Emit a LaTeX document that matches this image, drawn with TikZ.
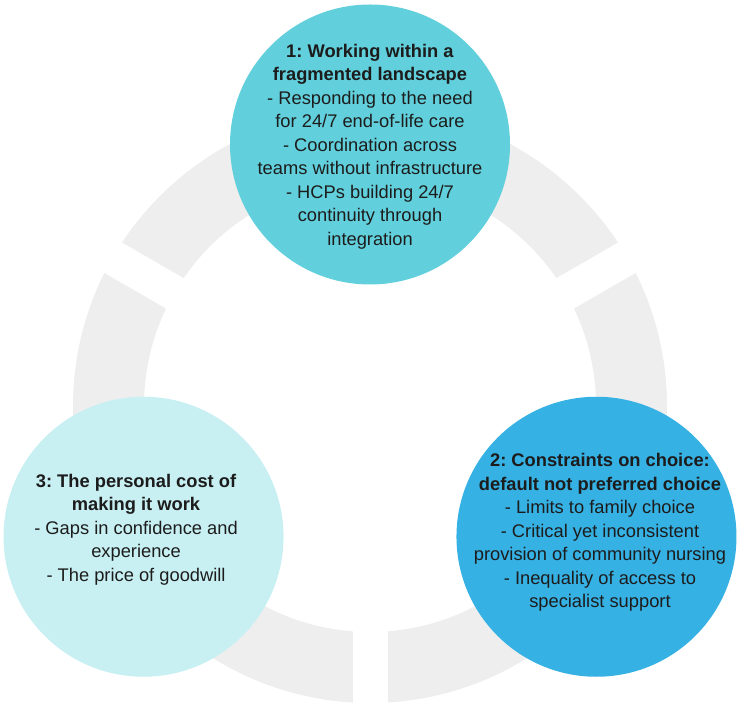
\documentclass[tikz,border=0pt]{standalone}
\usepackage{fontspec}
\setmainfont{Liberation Sans}
\frenchspacing
\usetikzlibrary{calc,positioning}
\definecolor{ringgray}{RGB}{238,238,238}
\definecolor{themeteal}{RGB}{98,208,220}
\definecolor{themeblue}{RGB}{54,177,228}
\definecolor{themepale}{RGB}{200,240,243}
\definecolor{inkdark}{RGB}{28,28,28}

\begin{document}
\begin{tikzpicture}[x=1pt,y=1pt,
    theme/.style={circle, minimum size=280pt, inner sep=0pt, draw=none},
    themetext/.style={align=center, text=inkdark, inner sep=0pt,
        font=\fontsize{18.3}{23.5}\selectfont},
    ringcut/.style={white, line width=35pt}]
    \useasboundingbox (0,0) rectangle (744,707);

    % centre of the ring
        \coordinate (O) at (370,301);

    % grey ring, cut in three
        \fill[ringgray, even odd rule] (O) circle (297) (O) circle (226);
        \foreach \a in {30,150,270}
            \draw[ringcut] ($(O)+(\a:220)$) -- ($(O)+(\a:303)$);

    % theme circles on the ring
        \node[theme, fill=themeteal] (T1) at ($(O)+(90:261.5)$) {};
        \node[theme, fill=themeblue] (T2) at ($(O)+(-30:261.5)$) {};
        \node[theme, fill=themepale] (T3) at ($(O)+(210:261.5)$) {};

    % theme texts
    \node[themetext] (L1) at ([yshift=-2]T1)
        {\textbf{1: Working within a}\\ \textbf{fragmented landscape}\\
         - Responding to the need\\ for 24/7 end-of-life care\\
         - Coordination across\\ teams without infrastructure\\
         - HCPs building 24/7\\ continuity through\\ integration};
    \node[themetext] (L2) at ([shift={(3.5,4)}]T2)
        {\textbf{2: Constraints on choice:}\\ \textbf{default not preferred choice}\\
         - Limits to family choice\\ - Critical yet inconsistent\\
         provision of community nursing\\ - Inequality of access to\\
         specialist support};
    \node[themetext] (L3) at ([shift={(-7.5,7)}]T3)
        {\textbf{3: The personal cost of}\\ \textbf{making it work}\\
         - Gaps in confidence and\\ experience\\ - The price of goodwill};

\end{tikzpicture}
\end{document}
